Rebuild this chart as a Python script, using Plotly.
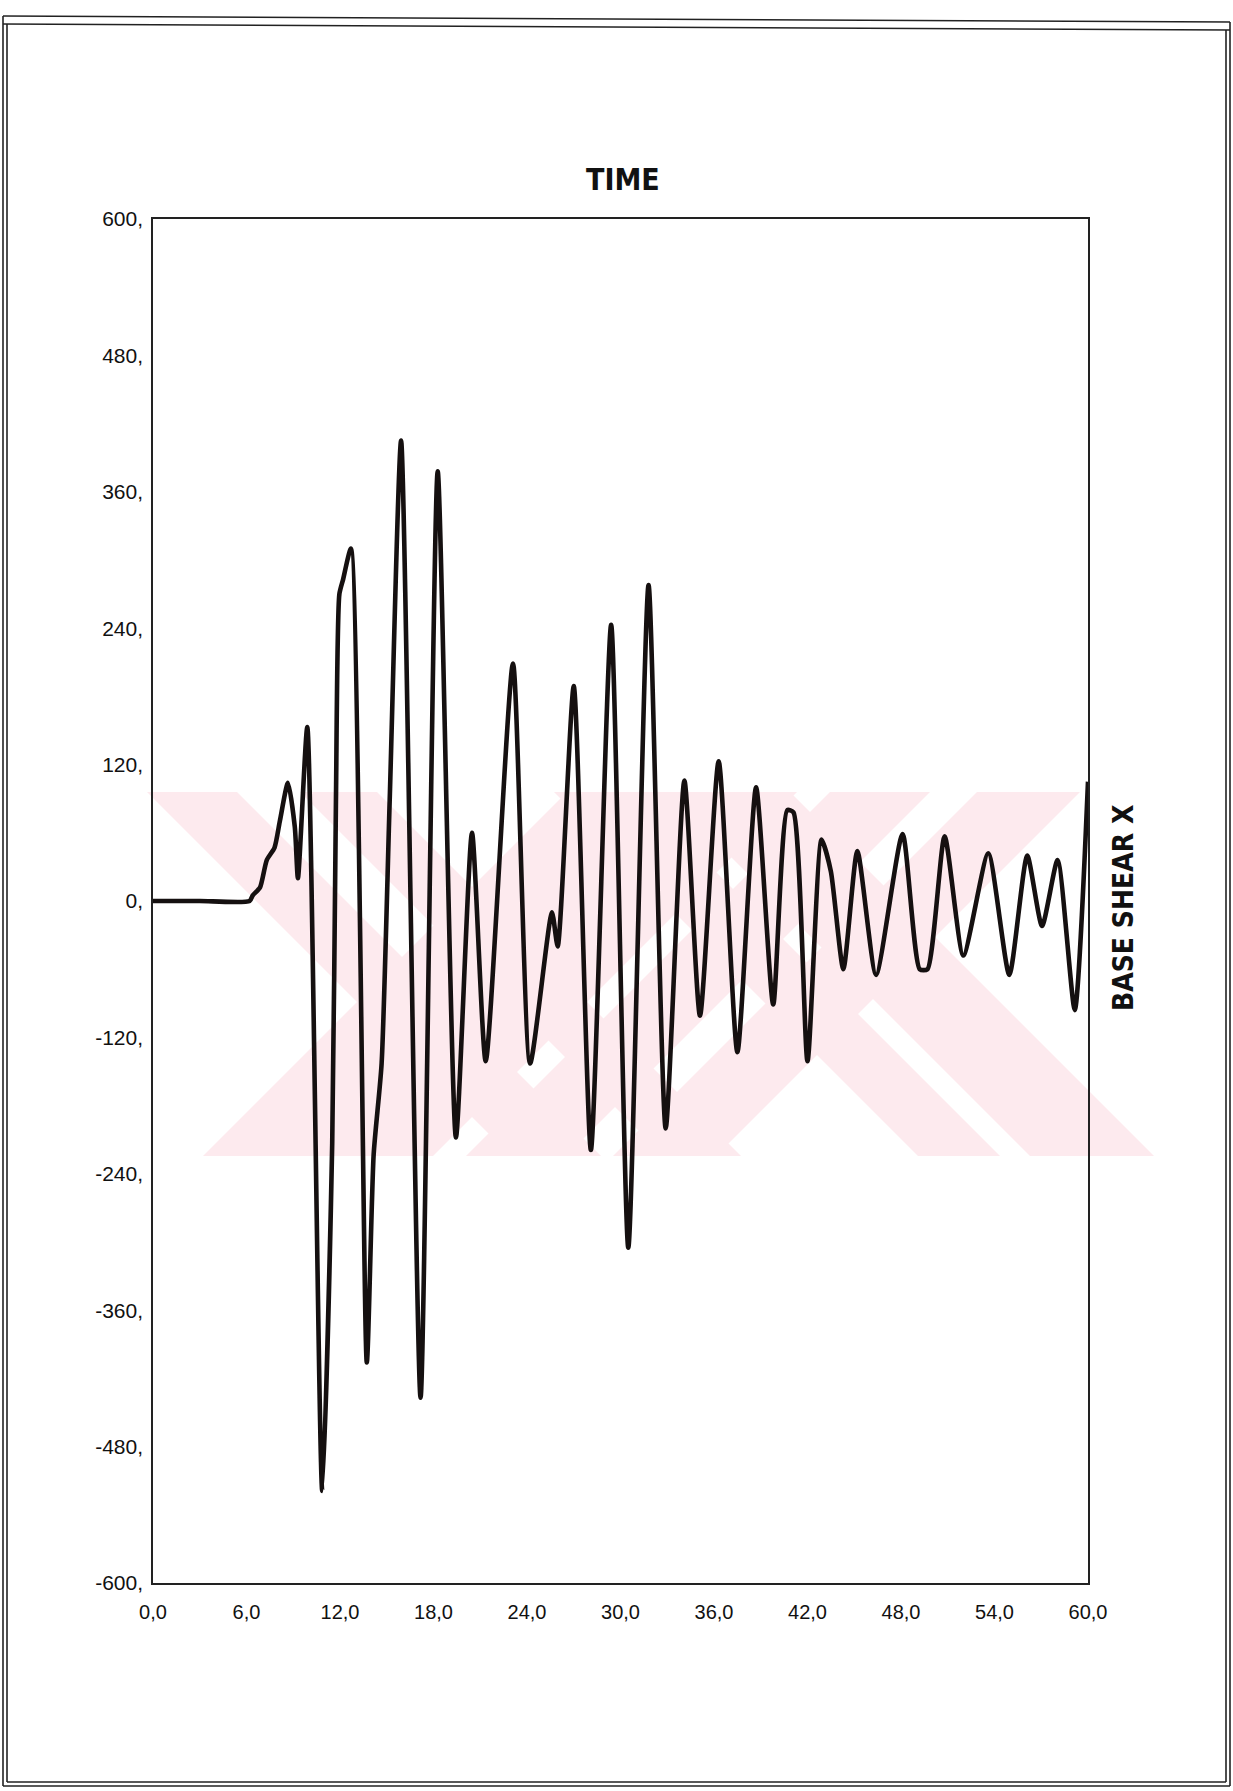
import plotly.graph_objects as go

# ---- data (time in s, base shear) ----
time_s = [0.0, 3.0, 6.2, 6.4, 6.87, 7.3, 7.8, 8.15, 8.66, 9.1, 9.3, 9.9, 10.86, 11.5, 11.74, 11.96,
          12.2, 12.7, 13.72, 14.16, 14.67, 15.19, 15.92, 17.17, 18.27, 19.44, 20.47, 21.35,
          23.1, 24.2, 25.6, 25.97, 27.0, 28.1, 29.4, 30.5, 31.8, 32.9, 34.1, 35.1, 36.3,
          37.5, 38.7, 39.8, 40.7, 41.1, 42.0, 42.9, 43.5, 44.3, 45.2, 46.4, 48.1, 49.2,
          49.7, 50.8, 52.0, 53.6, 54.95, 56.1, 57.05, 58.05, 59.15, 60.0]
base_shear = [0, 0, 0, 5, 12, 36, 47, 71, 104, 65, 20, 153, -519, -213, 89, 270,
              283, 310, -406, -223, -143, 89, 405, -437, 378, -208, 60, -141,
              209, -143, -10, -40, 189, -219, 243, -305, 278, -200, 106, -101, 123,
              -133, 100, -91, 80, 78, -141, 54, 26, -60, 44, -65, 59, -60,
              -60, 57, -48, 42, -65, 40, -22, 36, -96, 105]

x_ticks = [0, 6, 12, 18, 24, 30, 36, 42, 48, 54, 60]
x_ticktext = ["0,0", "6,0", "12,0", "18,0", "24,0", "30,0", "36,0", "42,0", "48,0", "54,0", "60,0"]
y_ticks = [600, 480, 360, 240, 120, 0, -120, -240, -360, -480, -600]
y_ticktext = ["600,", "480,", "360,", "240,", "120,", "0,", "-120,", "-240,", "-360,", "-480,", "-600,"]

# ---- page geometry (pixels) ----
W, H = 1233, 1791
L, R, T, B = 153, 1088, 219, 1583


def px(x):
    return (x - L) / (R - L)


def py(y):
    return (B - y) / (B - T)


fig = go.Figure()
fig.add_trace(go.Scatter(
    x=time_s, y=base_shear, mode="lines",
    line=dict(color="#151010", width=4.6, shape="spline", smoothing=0.6),
    hoverinfo="skip", showlegend=False,
))

shapes = []
pink = "#fdeaee"
# scanned watermark: diagonal bands (decorative, behind the plot)
top_y, bot_y = 792, 1156
bands = [  # (top edge x-range), (bottom edge x-range)
    ((567, 797), (203, 433)),
    ((830, 930), (466, 566)),
    ((977, 1080), (613, 716)),
    ((147, 237), (511, 601)),
    ((300, 377), (664, 741)),
    ((554, 636), (918, 1000)),
    ((666, 790), (1030, 1154)),
]
for (t0, t1), (b0, b1) in bands:
    path = (f"M {px(t0)} {py(top_y)} L {px(t1)} {py(top_y)} "
            f"L {px(b1)} {py(bot_y)} L {px(b0)} {py(bot_y)} Z")
    shapes.append(dict(type="path", xref="paper", yref="paper", path=path,
                       fillcolor=pink, line=dict(width=0), layer="below"))

# page border (double line)
bl = dict(color="#222", width=1.6)
for (x0, y0, x1, y1) in [
    (3, 16, 1230, 22), (3, 24, 1230, 30),
    (3, 16, 3, 1786), (7, 24, 7, 1782),
    (1230, 22, 1230, 1786), (1226, 30, 1226, 1782),
    (3, 1786, 1230, 1786), (7, 1782, 1226, 1782),
]:
    shapes.append(dict(type="line", xref="paper", yref="paper",
                       x0=px(x0), y0=py(y0), x1=px(x1), y1=py(y1), line=bl, layer="above"))

cond = "DejaVu Sans Condensed, Liberation Sans Narrow, Arial Narrow, Roboto, sans-serif"
annotations = [
    dict(text="<b>TIME</b>", x=px(623), y=py(179), xref="paper", yref="paper",
         xanchor="center", yanchor="middle", showarrow=False,
         font=dict(family=cond, size=30, color="#111")),
    dict(text="<b>BASE SHEAR X</b>", x=px(1123), y=py(908), xref="paper", yref="paper",
         xanchor="center", yanchor="middle", showarrow=False, textangle=-90,
         font=dict(family=cond, size=28, color="#111")),
]

fig.update_layout(
    width=W, height=H,
    margin=dict(l=L, r=W - R, t=T, b=H - B, pad=0),
    paper_bgcolor="white", plot_bgcolor="rgba(0,0,0,0)",
    shapes=shapes, annotations=annotations, showlegend=False,
    font=dict(family="Liberation Sans, Arial, sans-serif", color="#111"),
)
fig.update_xaxes(range=[0, 60], tickvals=x_ticks, ticktext=x_ticktext,
                 showgrid=False, zeroline=False, showline=True, mirror=True,
                 linecolor="#222", linewidth=1.5, ticks="outside", ticklen=10,
                 tickcolor="rgba(0,0,0,0)", tickfont=dict(size=20, color="#111"))
fig.update_yaxes(range=[-600, 600], tickvals=y_ticks, ticktext=y_ticktext,
                 showgrid=False, zeroline=False, showline=True, mirror=True,
                 linecolor="#222", linewidth=1.5, ticks="outside", ticklen=4,
                 tickcolor="rgba(0,0,0,0)", tickfont=dict(size=21, color="#111"))

fig.write_html(
    "out.html",
    config={"displayModeBar": False},
    post_script="document.body.style.margin='0px';document.body.style.padding='0px';"
                "document.documentElement.style.overflow='hidden';",
)
